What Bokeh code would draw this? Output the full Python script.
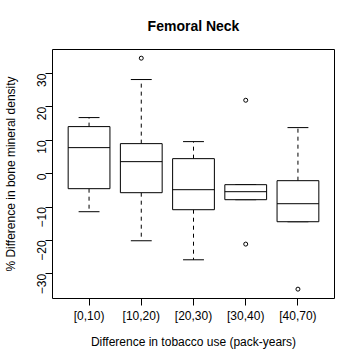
import math
import numpy as np
from bokeh.plotting import figure
from bokeh.models import Range1d, FixedTicker
from bokeh.embed import file_html
from bokeh.resources import INLINE

title_text = "Femoral Neck"
categories = ["[0,10)", "[10,20)", "[20,30)", "[30,40)", "[40,70)"]
q1 = [-4.5, -5.7, -10.8, -7.8, -14.4]
median = [7.8, 3.6, -4.8, -5.4, -9.0]
q3 = [14.1, 9.0, 4.5, -3.3, -2.1]
whisker_low = [-11.4, -20.1, -25.8, -7.8, -14.4]
whisker_high = [16.8, 28.2, 9.6, -3.3, 13.8]
outlier_group = [2, 4, 4, 5]
outlier_value = [34.6, 22.0, -21.1, -34.6]
y_ticks = [-30, -20, -10, 0, 10, 20, 30]

FONT = "Liberation Sans"

x = np.arange(1, len(categories) + 1)
q1a, meda, q3a = np.array(q1), np.array(median), np.array(q3)
lo, hi = np.array(whisker_low), np.array(whisker_high)
half_box = 0.4
half_cap = 0.2

p = figure(width=360, height=360, output_backend="svg", toolbar_location=None,
           x_range=Range1d(0.3, 5.7), y_range=Range1d(-37.4, 37.2),
           min_border_left=49, min_border_right=26, min_border_top=49, min_border_bottom=62)

p.title.text = title_text
p.title.align = "center"
p.title.vertical_align = "middle"
p.title.text_font = FONT
p.title.text_font_size = "14px"
p.title.text_font_style = "bold"
p.title.text_color = "black"
p.title.standoff = 29

p.outline_line_color = "black"
p.outline_line_width = 1
p.background_fill_color = "white"
p.border_fill_color = "white"
p.xgrid.visible = False
p.ygrid.visible = False

# whiskers
p.segment(x0=x, y0=q3a, x1=x, y1=hi, line_color="black", line_width=1, line_dash="4 4")
p.segment(x0=x, y0=q1a, x1=x, y1=lo, line_color="black", line_width=1, line_dash="4 4")
# caps
p.segment(x0=x - half_cap, y0=hi, x1=x + half_cap, y1=hi, line_color="black", line_width=1)
p.segment(x0=x - half_cap, y0=lo, x1=x + half_cap, y1=lo, line_color="black", line_width=1)
# boxes
p.quad(left=x - half_box, right=x + half_box, bottom=q1a, top=q3a,
       fill_color="white", line_color="black", line_width=1)
# medians
p.segment(x0=x - half_box, y0=meda, x1=x + half_box, y1=meda, line_color="black", line_width=1)
# outliers
p.scatter(x=outlier_group, y=outlier_value, marker="circle", size=4,
          fill_color="white", line_color="black", line_width=1)

for ax in (p.xaxis[0], p.yaxis[0]):
    ax.axis_line_color = None
    ax.major_tick_line_color = "black"
    ax.major_tick_out = 7
    ax.major_tick_in = 0
    ax.minor_tick_line_color = None
    ax.major_label_text_font = FONT
    ax.major_label_text_font_size = "12px"
    ax.major_label_text_color = "black"
    ax.axis_label_text_font = FONT
    ax.axis_label_text_font_size = "12px"
    ax.axis_label_text_font_style = "normal"
    ax.axis_label_text_color = "black"

p.xaxis.ticker = FixedTicker(ticks=list(x))
p.xaxis.major_label_overrides = {int(i): c for i, c in zip(x, categories)}
p.xaxis.major_label_standoff = 3
p.xaxis.axis_label = "Difference in tobacco use (pack-years)"
p.xaxis.axis_label_standoff = 9

p.yaxis.ticker = FixedTicker(ticks=y_ticks)
p.yaxis.major_label_orientation = math.pi / 2
p.yaxis.major_label_standoff = 4
p.yaxis.axis_label = "% Difference in bone mineral density"
p.yaxis.axis_label_standoff = 12

open("out.html", "w").write(file_html(p, INLINE))
